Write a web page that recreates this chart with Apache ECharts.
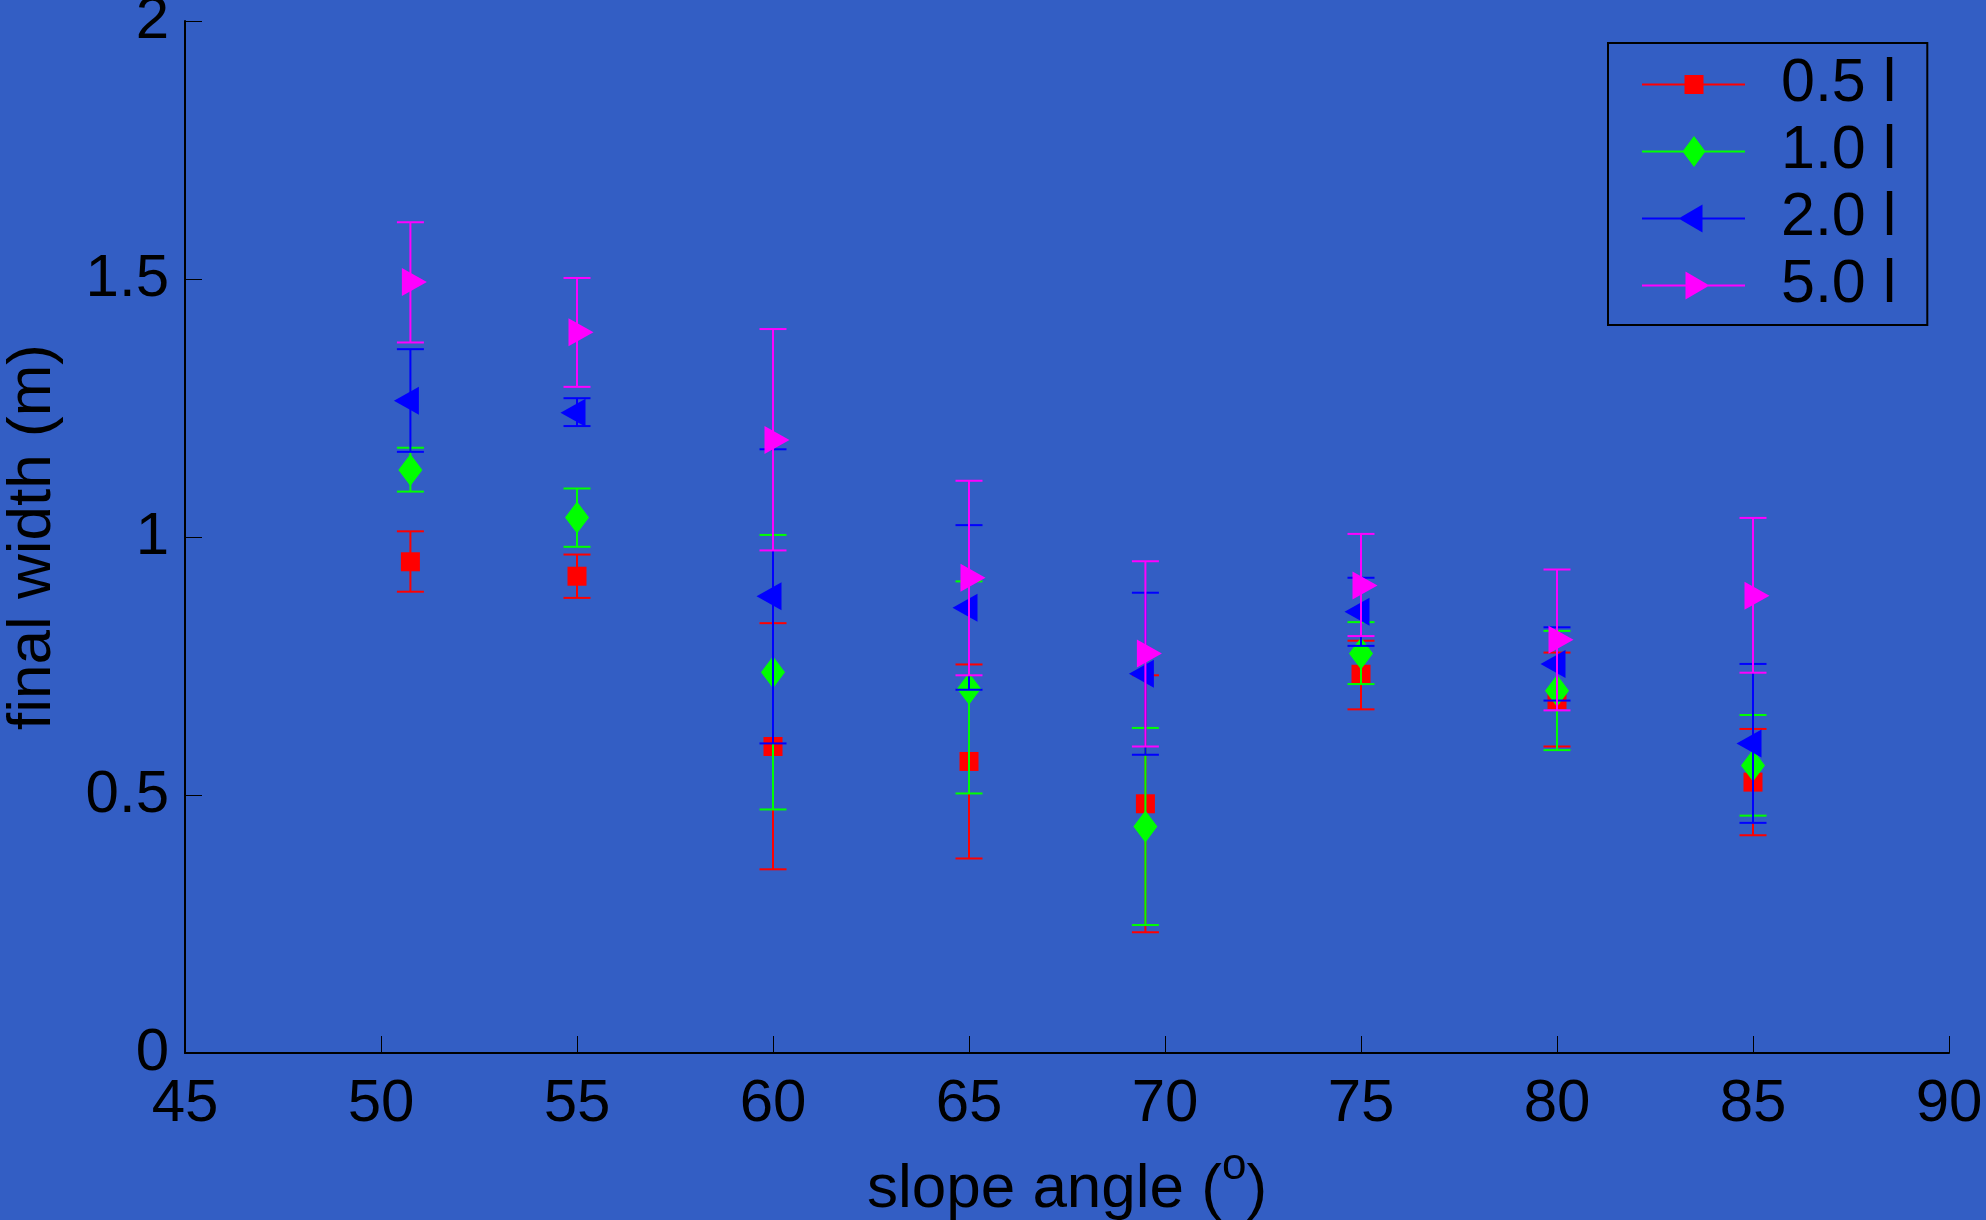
<!DOCTYPE html>
<html>
<head>
<meta charset="utf-8">
<script src="https://cdn.jsdelivr.net/npm/echarts@6/dist/echarts.min.js"></script>
<style>
html,body{margin:0;padding:0;background:#335ec4;}
#chart{width:1986px;height:1220px;}
</style>
</head>
<body>
<div id="chart"></div>
<script>
// ---- data ----
const slopeAngles = [50.75, 55, 60, 65, 69.5, 75, 80, 85];
const seriesNames = ['0.5 l', '1.0 l', '2.0 l', '5.0 l'];

const mean05 = [0.952, 0.924, 0.594, 0.565, 0.483, 0.734, 0.685, 0.525];
const low05  = [0.894, 0.882, 0.356, 0.377, 0.234, 0.666, 0.594, 0.422];
const high05 = [1.011, 0.966, 0.833, 0.753, 0.732, 0.799, 0.776, 0.628];

const mean10 = [1.130, 1.038, 0.738, 0.706, 0.439, 0.774, 0.702, 0.557];
const low10  = [1.088, 0.981, 0.472, 0.503, 0.248, 0.715, 0.587, 0.460];
const high10 = [1.173, 1.094, 1.004, 0.914, 0.630, 0.835, 0.818, 0.655];

const mean20 = [1.264, 1.241, 0.885, 0.863, 0.735, 0.855, 0.754, 0.600];
const low20  = [1.165, 1.215, 0.600, 0.704, 0.578, 0.789, 0.683, 0.446];
const high20 = [1.364, 1.269, 1.170, 1.023, 0.892, 0.921, 0.825, 0.754];

const mean50 = [1.494, 1.397, 1.188, 0.921, 0.774, 0.906, 0.801, 0.886];
const low50  = [1.377, 1.291, 0.974, 0.732, 0.594, 0.808, 0.664, 0.737];
const high50 = [1.610, 1.502, 1.403, 1.109, 0.953, 1.006, 0.937, 1.037];

const xAxisMin = 45, xAxisMax = 90, xAxisStep = 5;
const yAxisMin = 0, yAxisMax = 2, yAxisStep = 0.5;

const xAxisTitle = '{m|slope angle (}{sup|o}{m|)}';
const yAxisTitle = 'final width (m)';

// ---- styling ----
const colors = ['#ff0000', '#00ff00', '#0000ff', '#ff00ff'];
const FONT = 'Liberation Sans, Arial, Helvetica, sans-serif';
const markerDefs = [
  { symbol: 'rect', size: 19, rotate: 0, offset: [0, 0] },
  { symbol: 'diamond', size: [24, 32], rotate: 0, offset: [0, 0] },
  { symbol: 'triangle', size: [28, 25], rotate: 90, offset: [-4, 0] },
  { symbol: 'triangle', size: [28, 25], rotate: -90, offset: [4, 0] }
];
// legend icons: a line sample (103 wide) with the marker drawn on it
const legendLine = 'M0,15L103,15L103,17L0,17Z';
const legendIcons = [
  'path://' + legendLine + 'M42.5,6.5L61.5,6.5L61.5,25.5L42.5,25.5Z',
  'path://' + legendLine + 'M52,0.5L63.5,16L52,31.5L40.5,16Z',
  'path://' + legendLine + 'M36.5,16L60.5,2L60.5,30Z',
  'path://' + legendLine + 'M43.5,2L67.5,16L43.5,30Z'
];
const means = [mean05, mean10, mean20, mean50];
const lows = [low05, low10, low20, low50];
const highs = [high05, high10, high20, high50];

function errRender(color) {
  return function (params, api) {
    const x = api.value(0), lo = api.value(1), hi = api.value(2);
    const pLo = api.coord([x, lo]);
    const pHi = api.coord([x, hi]);
    const cap = 13.5;
    const style = { stroke: color, lineWidth: 2 };
    return {
      type: 'group',
      children: [
        { type: 'line', shape: { x1: pLo[0], y1: pLo[1], x2: pHi[0], y2: pHi[1] }, style: style },
        { type: 'line', shape: { x1: pLo[0] - cap, y1: pLo[1], x2: pLo[0] + cap, y2: pLo[1] }, style: style },
        { type: 'line', shape: { x1: pHi[0] - cap, y1: pHi[1], x2: pHi[0] + cap, y2: pHi[1] }, style: style }
      ]
    };
  };
}

const series = [];
seriesNames.forEach(function (name, i) {
  series.push({
    name: name + ' error',
    type: 'custom',
    renderItem: errRender(colors[i]),
    data: slopeAngles.map(function (x, k) { return [x, lows[i][k], highs[i][k]]; }),
    encode: { x: 0, y: [1, 2] },
    z: 2 + i * 2,
    silent: true
  });
  series.push({
    name: name,
    type: 'line',
    data: slopeAngles.map(function (x, k) { return [x, means[i][k]]; }),
    symbol: markerDefs[i].symbol,
    symbolSize: markerDefs[i].size,
    symbolRotate: markerDefs[i].rotate,
    symbolOffset: markerDefs[i].offset,
    showSymbol: true,
    showAllSymbol: true,
    itemStyle: { color: colors[i], opacity: 1 },
    lineStyle: { color: colors[i], width: 2, opacity: 0 },
    emphasis: { disabled: true },
    z: 3 + i * 2,
    silent: true
  });
});

const chart = echarts.init(document.getElementById('chart'), null, { renderer: 'canvas' });
chart.setOption({
  animation: false,
  backgroundColor: '#335ec4',
  textStyle: { fontFamily: FONT },
  grid: { left: 185, top: 21, right: 37, bottom: 167, containLabel: false, outerBoundsMode: 'none' },
  legend: {
    data: seriesNames.map(function (n, i) {
      return { name: n, icon: legendIcons[i], iconRotate: 0 };
    }),
    orient: 'vertical',
    left: 1608,
    top: 43,
    padding: [11, 31, 9, 34],
    itemGap: 6,
    itemWidth: 103,
    itemHeight: 32,
    symbolKeepAspect: true,
    borderColor: '#000',
    borderWidth: 2,
    backgroundColor: 'transparent',
    textStyle: { color: '#000', fontSize: 61, lineHeight: 61, fontFamily: FONT, padding: [0, 0, 0, 31] },
    selectedMode: false
  },
  xAxis: {
    type: 'value',
    min: xAxisMin, max: xAxisMax, interval: xAxisStep,
    axisLine: { show: true, onZero: false, lineStyle: { color: '#000', width: 2 } },
    axisTick: { show: true, inside: true, length: 17, lineStyle: { color: '#000', width: 1 } },
    axisLabel: { color: '#000', fontSize: 60, lineHeight: 60, margin: 21, fontFamily: FONT },
    splitLine: { show: false },
    name: xAxisTitle,
    nameLocation: 'middle',
    nameGap: 92,
    nameTextStyle: {
      color: '#000', fontSize: 62, lineHeight: 76, fontFamily: FONT,
      rich: {
        m: { color: '#000', fontSize: 62, lineHeight: 76, verticalAlign: 'bottom', fontFamily: FONT },
        sup: { color: '#000', fontSize: 44, lineHeight: 44, verticalAlign: 'top', fontFamily: FONT }
      }
    }
  },
  yAxis: {
    type: 'value',
    min: yAxisMin, max: yAxisMax, interval: yAxisStep,
    axisLine: { show: true, onZero: false, lineStyle: { color: '#000', width: 2 } },
    axisTick: { show: true, inside: true, length: 17, lineStyle: { color: '#000', width: 1 } },
    axisLabel: { color: '#000', fontSize: 60, lineHeight: 60, margin: 16, fontFamily: FONT },
    splitLine: { show: false },
    name: yAxisTitle,
    nameLocation: 'middle',
    nameGap: 121,
    nameTextStyle: { color: '#000', fontSize: 62, lineHeight: 62, fontFamily: FONT }
  },
  series: series
});
</script>
</body>
</html>
